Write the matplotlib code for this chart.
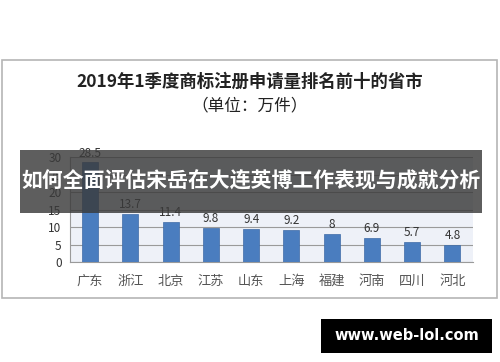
import matplotlib
matplotlib.use("Agg")
import matplotlib.pyplot as plt
from matplotlib.patches import Rectangle

plt.rcParams['font.family'] = ['Noto Sans CJK SC', 'DejaVu Sans']

categories = ['广东', '浙江', '北京', '江苏', '山东', '上海', '福建', '河南', '四川', '河北']
values = [28.5, 13.7, 11.4, 9.8, 9.4, 9.2, 8, 6.9, 5.7, 4.8]
value_labels = ['28.5', '13.7', '11.4', '9.8', '9.4', '9.2', '8', '6.9', '5.7', '4.8']
yticks = [0, 5, 10, 15, 20, 25, 30]

fig = plt.figure(figsize=(5, 3.62), dpi=100)
fig.patch.set_facecolor('white')

# outer chart frame
fig.patches.append(Rectangle((0.004, 0.177), 0.99, 0.657, transform=fig.transFigure,
                             facecolor='white', edgecolor='#b5b5b5', linewidth=1.2, zorder=-5))

fig.text(0.5, 0.773, '2019年1季度商标注册申请量排名前十的省市', ha='center', va='center',
         fontsize=12.5, fontweight='bold', color='#222222')
fig.text(0.5, 0.708, '（单位：万件）', ha='center', va='center', fontsize=12, color='#222222')

ax = fig.add_axes([0.14, 0.276, 0.805, 0.29])
ax.set_zorder(1)
ax.set_facecolor('#eef1f8')
x = range(len(categories))
ax.bar(x, values, width=0.4, color='#4a7dbf', edgecolor='#3e6aa6', linewidth=0.5, zorder=3)
for xi, v, lab in zip(x, values, value_labels):
    ax.text(xi, v + 0.8, lab, ha='center', va='bottom', fontsize=8.5, color='#333333')
ax.set_xlim(-0.5, len(categories) - 0.5)
ax.set_ylim(0, 30)
ax.set_yticks(yticks)
ax.set_yticklabels([str(t) for t in yticks], fontsize=8.5, color='#333333')
ax.set_xticks(list(x))
ax.set_xticklabels(categories, fontsize=9.5, color='#555555')
ax.tick_params(axis='both', length=0, pad=6)
ax.tick_params(axis='x', pad=9)
ax.yaxis.grid(True, color='#9a9a9a', linewidth=0.8, zorder=1)
ax.set_axisbelow(True)
for s in ['top', 'right']:
    ax.spines[s].set_visible(False)
ax.spines['bottom'].set_color('#9a9a9a')
ax.spines['left'].set_color('#9a9a9a')

# banner overlay
fig.patches.append(Rectangle((0.04, 0.412), 0.924, 0.174, transform=fig.transFigure,
                             facecolor='#3a3a3a', alpha=0.82, edgecolor='none', zorder=10))
fig.text(0.502, 0.499, '如何全面评估宋岳在大连英博工作表现与成就分析', ha='center', va='center',
         fontsize=15, fontweight='bold', color='white', zorder=11)

# watermark
fig.patches.append(Rectangle((0.642, 0.025), 0.342, 0.094, transform=fig.transFigure,
                             facecolor='black', edgecolor='none', zorder=10))
fig.text(0.813, 0.072, 'www.web-lol.com', ha='center', va='center', fontsize=10.5,
         fontweight='bold', color='white', family=['DejaVu Sans'], zorder=11)

fig.savefig('out.png', dpi=100)
